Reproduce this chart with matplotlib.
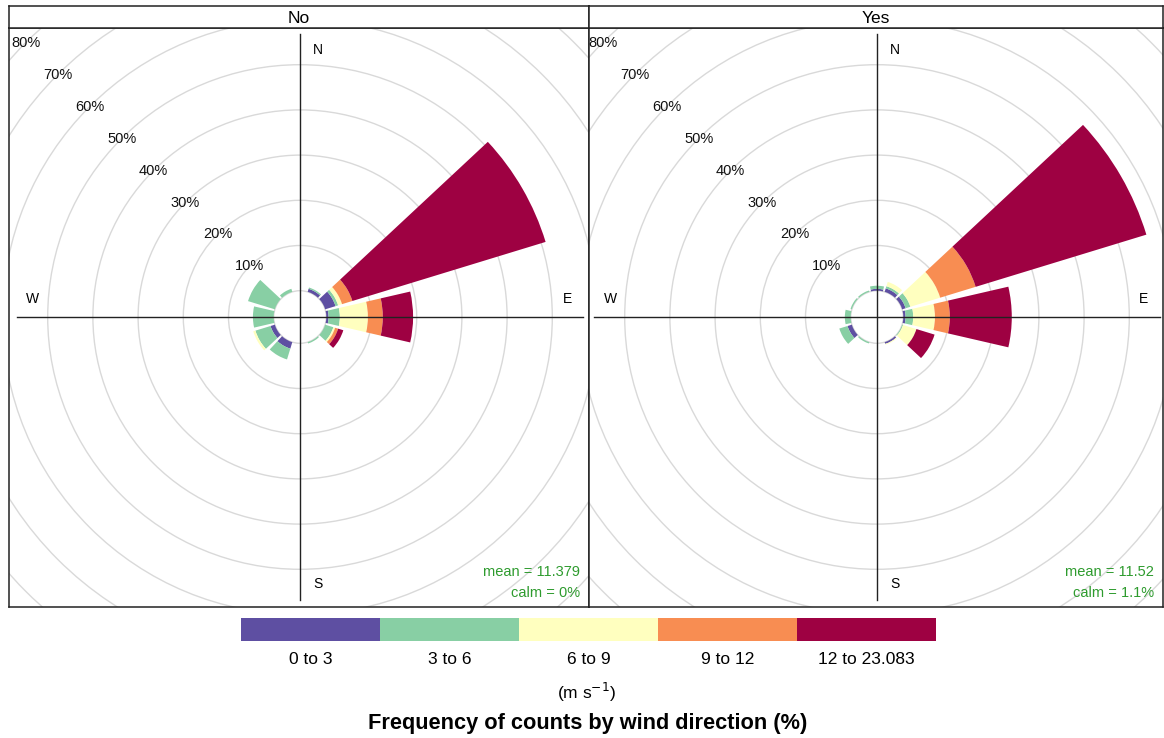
import numpy as np
import matplotlib.pyplot as plt
from matplotlib.patches import Wedge, Rectangle, Circle

plt.rcParams['font.family'] = ['Liberation Sans', 'DejaVu Sans']

# data: percentage of counts per direction and speed bin
DIRS = [0, 30, 60, 90, 120, 150, 180, 210, 240, 270, 300, 330]
BINS = ["0 to 3", "3 to 6", "6 to 9", "9 to 12", "12 to 23.083"]
COLS = ['#5E4FA2', '#88CFA4', '#FFFFBF', '#F88D52', '#9E0142']

no_0to3   = [0, 0.7, 2.4, 0.5, 0,   0,   0, 1.5, 1.0, 0,   0,   0]
no_3to6   = [0, 0.3, 0.6, 2.5, 1.9, 0.3, 0, 2.5, 3.5, 4.6, 6.2, 0.7]
no_6to9   = [0, 0,   0.9, 6.2, 0.4, 0,   0, 0,   0.5, 0,   0,   0]
no_9to12  = [0, 0,   2.4, 3.3, 0.7, 0,   0, 0,   0,   0,   0,   0]
no_12up   = [0, 0,  44.7, 6.7, 1.2, 0,   0, 0,   0,   0,   0,   0]

yes_0to3  = [0.4, 0.8, 0.8, 0.5, 0,   0.4, 0, 0,   1.0, 0,   0,   0]
yes_3to6  = [0.7, 0.5, 1.1, 1.7, 0.2, 0,   0, 0.3, 1.9, 1.3, 0.3, 0.3]
yes_6to9  = [0,   1.0, 6.9, 4.8, 3.1, 0.2, 0, 0,   0,   0,   0,   0]
yes_9to12 = [0,   0,   8.2, 3.3, 0,   0,   0, 0,   0,   0,   0,   0]
yes_12up  = [0,   0,  39.5, 13.7, 4.2, 0,  0, 0,   0,   0,   0,   0]

PANELS = ["No", "Yes"]
MEANS = ["mean = 11.379", "mean = 11.52"]
CALMS = ["calm = 0%", "calm = 1.1%"]
GRID_PCT = [10, 20, 30, 40, 50, 60, 70, 80]

W, H = 1164, 738
SCALE = 4.52          # px per percent
HOLE = 26.3 / SCALE   # inner calm circle
HALF = 13.0           # half petal width (deg)

fig = plt.figure(figsize=(W / 100, H / 100), dpi=100)

def fx(px): return px / W
def fy(py): return 1 - py / H

panel_box = [(9, 589, 300), (589, 1163, 877)]
top, bot, cy = 28, 607, 317

for k, (name, data) in enumerate(zip(PANELS, [
        [no_0to3, no_3to6, no_6to9, no_9to12, no_12up],
        [yes_0to3, yes_3to6, yes_6to9, yes_9to12, yes_12up]])):
    x0, x1, cx = panel_box[k]
    ax = fig.add_axes([fx(x0), fy(bot), (x1 - x0) / W, (bot - top) / H])
    ax.set_xlim((x0 - cx) / SCALE, (x1 - cx) / SCALE)
    ax.set_ylim((cy - bot) / SCALE, (cy - top) / SCALE)
    ax.set_xticks([]); ax.set_yticks([])
    for s in ax.spines.values():
        s.set_linewidth(1.1); s.set_color('#222222')

    # grid circles
    ax.add_patch(Circle((0, 0), HOLE, fill=False, ec='#D9D9D9', lw=1.0))
    for g in GRID_PCT:
        ax.add_patch(Circle((0, 0), HOLE + g, fill=False, ec='#D9D9D9', lw=1.0))
        a = np.deg2rad(135)
        ax.text((HOLE + g) * np.cos(a), (HOLE + g) * np.sin(a), f"{g}%",
                ha='center', va='center', fontsize=10.5, color='#111111', clip_on=True)

    L = 283 / SCALE
    ax.plot([-L, L], [0, 0], color='#222222', lw=1.0)
    ax.plot([0, 0], [-L, L], color='#222222', lw=1.0)
    R, O = 267 / SCALE, 18 / SCALE
    ax.text(O, R, "N", ha='center', va='center', fontsize=10)
    ax.text(O, -R, "S", ha='center', va='center', fontsize=10)
    ax.text(R, O, "E", ha='center', va='center', fontsize=10)
    ax.text(-R, O, "W", ha='center', va='center', fontsize=10)

    # petals
    for i, d in enumerate(DIRS):
        base = HOLE
        for j in range(len(BINS)):
            v = data[j][i]
            if v <= 0:
                continue
            t = 90 - d
            ax.add_patch(Wedge((0, 0), base + v, t - HALF, t + HALF, width=v,
                               fc=COLS[j], ec='none'))
            base += v

    xr = (x1 - 9 - cx) / SCALE
    ax.text(xr, (cy - 572) / SCALE, MEANS[k], ha='right', va='center',
            fontsize=10.5, color='#2E9B2E')
    ax.text(xr, (cy - 593) / SCALE, CALMS[k], ha='right', va='center',
            fontsize=10.5, color='#2E9B2E')

    # strip
    sx = fig.add_axes([fx(x0), fy(top), (x1 - x0) / W, 22 / H])
    sx.set_xticks([]); sx.set_yticks([])
    for s in sx.spines.values():
        s.set_linewidth(1.1); s.set_color('#222222')
    sx.text(0.5, 0.45, name, ha='center', va='center', fontsize=12.5,
            transform=sx.transAxes)

# colour key
kx = fig.add_axes([fx(241), fy(641), 695 / W, 23 / H])
kx.set_xlim(0, len(BINS)); kx.set_ylim(0, 1); kx.axis('off')
for j, c in enumerate(COLS):
    kx.add_patch(Rectangle((j, 0), 1, 1, fc=c, ec='none'))
for j, lab in enumerate(BINS):
    fig.text(fx(241 + 139 * (j + 0.5)), fy(660), lab, ha='center', va='center',
             fontsize=12.5)
fig.text(fx(587), fy(692), r"(m s$^{-1}$)", ha='center', va='center', fontsize=12.5)
fig.text(fx(588), fy(724), "Frequency of counts by wind direction (%)",
         ha='center', va='center', fontsize=15.7, fontweight='bold')

fig.savefig("out.png", dpi=100)
